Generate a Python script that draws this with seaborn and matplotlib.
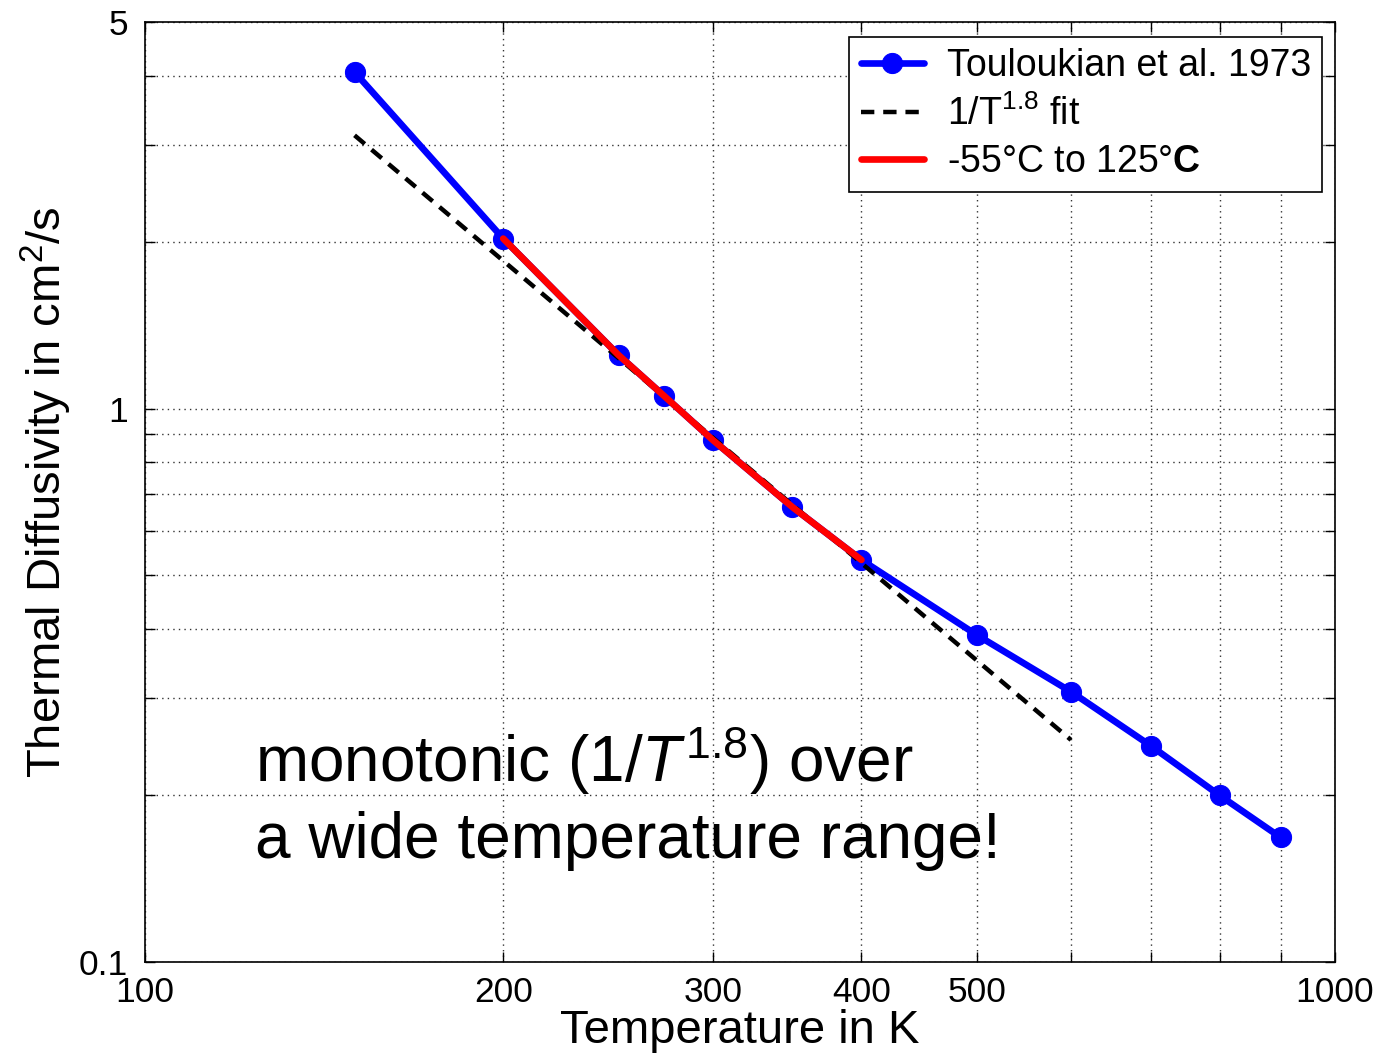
import matplotlib
matplotlib.use("Agg")
import matplotlib.pyplot as plt
import seaborn as sns
import pandas as pd

# Data
temps = [150, 200, 250, 273, 300, 350, 400, 500, 600, 700, 800, 900]
diffusivity = [4.06, 2.03, 1.25, 1.055, 0.878, 0.664, 0.533, 0.39, 0.308, 0.246, 0.200, 0.168]
range_temps = [200, 250, 273, 300, 350, 400]
range_diff = [2.03, 1.25, 1.055, 0.878, 0.664, 0.533]
fit_temps = [150, 600]
fit_diff = [3.12, 0.252]

x_major = [100, 200, 300, 400, 500, 1000]
x_minor = [600, 700, 800, 900]
y_major = [0.1, 1, 5]
y_minor = [0.2, 0.3, 0.4, 0.5, 0.6, 0.7, 0.8, 0.9, 2, 3, 4]

sns.set_style("ticks")
plt.rcParams['font.family'] = ['Liberation Sans', 'DejaVu Sans']
plt.rcParams['mathtext.fontset'] = 'custom'
plt.rcParams['mathtext.rm'] = 'Liberation Sans'
plt.rcParams['mathtext.it'] = 'Liberation Sans:italic'
plt.rcParams['mathtext.bf'] = 'Liberation Sans:bold'
for k in ['text.color', 'axes.labelcolor', 'xtick.color', 'ytick.color', 'axes.edgecolor']:
    plt.rcParams[k] = 'black'

df = pd.DataFrame({"T": temps, "D": diffusivity})
df_r = pd.DataFrame({"T": range_temps, "D": range_diff})
df_f = pd.DataFrame({"T": fit_temps, "D": fit_diff})

fig = plt.figure(figsize=(13.81, 10.63), dpi=100)
ax = fig.add_axes([145/1381, 101/1063, 1190/1381, 940/1063])

sns.lineplot(data=df, x="T", y="D", ax=ax, color="#0000ff", linewidth=4.8,
             marker="o", markersize=14.5, markeredgecolor="#0000ff",
             label="Touloukian et al. 1973", zorder=3)
sns.lineplot(data=df_f, x="T", y="D", ax=ax, color="black", linewidth=3.2,
             linestyle=(0, (3, 2)), label=r"1/T$^{\mathrm{1.8}}$ fit", zorder=4)
sns.lineplot(data=df_r, x="T", y="D", ax=ax, color="#ff0000", linewidth=4.8,
             label=r"-55°C to 125°$\mathbf{C}$", zorder=5)

ax.set_xscale("log")
ax.set_yscale("log")
ax.set_xlim(100, 1000)
ax.set_ylim(0.1, 5)

ax.set_xticks(x_major)
ax.set_xticklabels([str(v) for v in x_major])
ax.set_xticks(x_minor, minor=True)
ax.set_xticklabels([], minor=True)
ax.set_yticks(y_major)
ax.set_yticklabels(["0.1", "1", "5"])
ax.set_yticks(y_minor, minor=True)
ax.set_yticklabels([], minor=True)

ax.tick_params(which="both", direction="in", top=True, right=True,
               length=7, width=1, labelsize=25.5, colors="black")
ax.tick_params(axis="x", pad=10)
ax.tick_params(axis="y", pad=12)
ax.grid(True, which="both", linestyle=(0, (1, 3)), color="0.2", linewidth=1)
for s in ax.spines.values():
    s.set_color("black")
    s.set_linewidth(1.2)

ax.set_xlabel("Temperature in K", fontsize=34, labelpad=0)
ax.set_ylabel(r"Thermal Diffusivity in cm$^2$/s", fontsize=34, labelpad=4)

leg = ax.legend(loc="upper right", fontsize=27, frameon=True, fancybox=False,
                edgecolor="black", framealpha=1, handlelength=1.7,
                borderpad=0.3, labelspacing=0.3, handletextpad=0.6,
                borderaxespad=0, bbox_to_anchor=(0.9893, 0.984))
leg.get_frame().set_linewidth(1.2)

ax.text(0.0924, 0.1915, r"monotonic (1/$\mathit{T^{1.8}}$) over",
        transform=ax.transAxes, fontsize=46, va="baseline", ha="left")
ax.text(0.0924, 0.1106, "a wide temperature range!",
        transform=ax.transAxes, fontsize=46, va="baseline", ha="left")

fig.savefig("out.png", dpi=100)
